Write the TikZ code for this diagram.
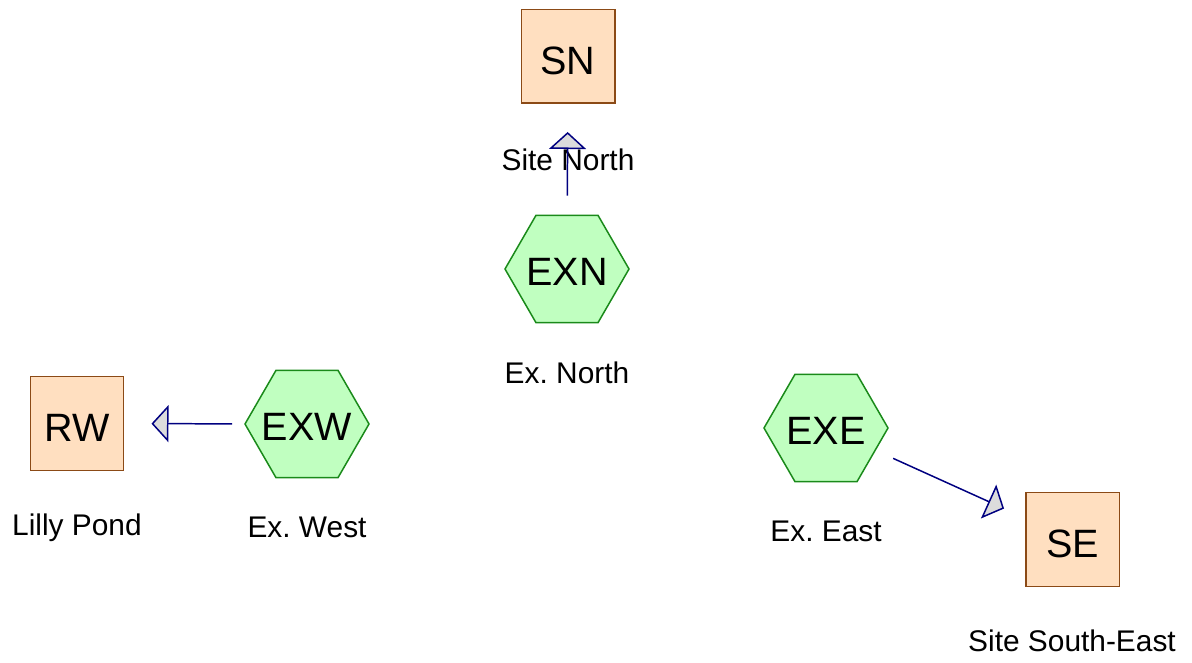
\documentclass[tikz,border=0pt]{standalone}
\usepackage{fontspec}
\setmainfont{Liberation Sans}
\usetikzlibrary{shapes.geometric}
\usetikzlibrary{arrows.meta}
\definecolor{peach}{HTML}{FFDFC0}
\definecolor{brn}{HTML}{8B4A16}
\definecolor{lgreen}{HTML}{C0FFC0}
\definecolor{dgreen}{HTML}{1A8A1A}
\definecolor{nv}{HTML}{000080}
\definecolor{hd}{HTML}{DCDCDC}
\newcommand{\hexlabel}[1]{\makebox[0pt]{#1}}
\tikzset{
site/.style={draw=brn,fill=peach,line width=0.85pt,minimum size=1.87cm,inner sep=0pt,text height=20pt,text depth=0pt,font=\fontsize{22.5}{26}\selectfont},
extract/.style={regular polygon,regular polygon sides=6,draw=dgreen,fill=lgreen,line width=0.85pt,minimum size=2.48cm,inner sep=0pt,text height=18.6pt,text depth=0pt,font=\fontsize{22.5}{26}\selectfont},
lbl/.style={font=\fontsize{17}{20}\selectfont},
flow/.style={draw=nv,line width=0.85pt,-{Triangle[length=0.34cm,width=0.74cm,fill=hd]}}
}

\begin{document}
\frenchspacing
\begin{tikzpicture}
\useasboundingbox (0,0) rectangle (23.84,-13.26);
\node[site] (SN) at (11.36,-1.13) {SN};
\node[site] (RW) at (1.54,-8.47) {RW};
\node[site] (SE) at (21.45,-10.79) {SE};
\node[extract] (EXN) at (11.34,-5.38) {\hexlabel{EXN}};
\node[extract] (EXW) at (6.14,-8.48) {\hexlabel{EXW}};
\node[extract] (EXE) at (16.52,-8.56) {\hexlabel{EXE}};
\node[lbl] (lSN) at (11.36,-3.2) {Site North};
\node[lbl] (lEXN) at (11.34,-7.46) {Ex. North};
\node[lbl] (lRW) at (1.54,-10.56) {Lilly Pond};
\node[lbl] (lEXW) at (6.14,-10.54) {Ex. West};
\node[lbl] (lEXE) at (16.52,-10.62) {Ex. East};
\node[lbl] (lSE) at (21.44,-12.82) {Site South-East};
\draw[flow,shorten <=0.38cm,shorten >=0.56cm] (EXN) -- (SN);
\draw[flow,shorten <=0.24cm,shorten >=0.54cm] (EXW) -- (RW);
\draw[flow,shorten <=0.38cm,shorten >=0.46cm] (EXE) -- (SE);
\end{tikzpicture}
\end{document}
